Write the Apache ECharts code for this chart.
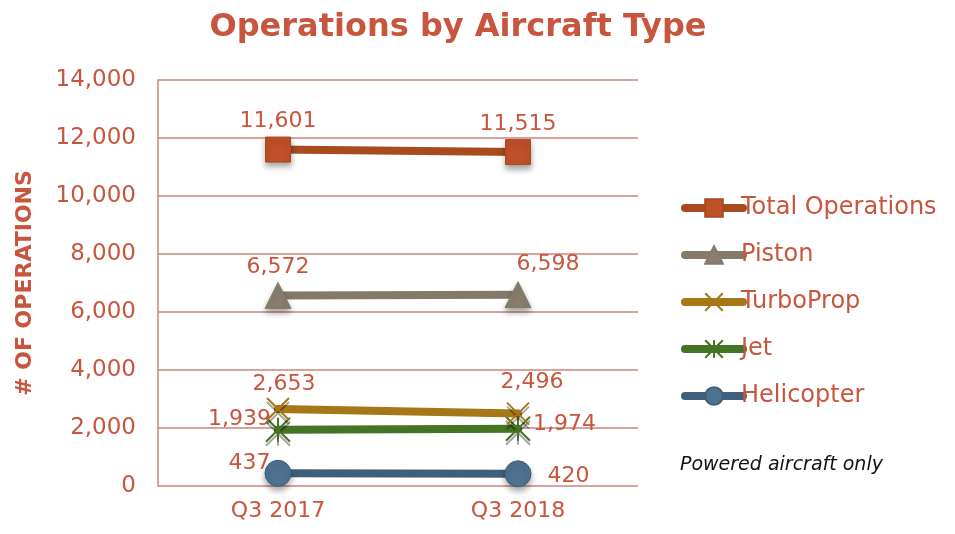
<!DOCTYPE html>
<html>
<head>
<meta charset="utf-8">
<script src="https://cdn.jsdelivr.net/npm/echarts@6/dist/echarts.min.js"></script>
<style>
  html, body { margin: 0; padding: 0; background: #fff; }
  #main { width: 955px; height: 534px; }
</style>
</head>
<body>
<div id="main"></div>
<script>
// data
const quarters = ['Q3 2017', 'Q3 2018'];
const seriesNames = ['Total Operations', 'Piston', 'TurboProp', 'Jet', 'Helicopter'];
const totalOps = [11601, 11515];
const piston = [6572, 6598];
const turboProp = [2653, 2496];
const jet = [1939, 1974];
const helicopter = [437, 420];

const textColor = '#c8553d';
const font = 'DejaVu Sans';

// label placement per point (style only)
const labelPos = [
  [{ position: 'top', distance: 4 }, { position: 'top', distance: 4 }],
  [{ position: 'top', distance: 4 }, { position: 'top', distance: 6, offset: [30, 0] }],
  [{ position: 'top', distance: 2, offset: [6, 0] }, { position: 'top', distance: 8, offset: [14, 0] }],
  [{ position: 'left', distance: 0, offset: [6, -10] }, { position: 'right', distance: 2, offset: [0, -4] }],
  [{ position: 'left', distance: 0, offset: [6, -10] }, { position: 'right', distance: 16, offset: [0, 2] }]
];

const colors = ['#a84b1e', '#857a6a', '#a67716', '#447424', '#3f607a'];
const symbolFill = ['#c0502a', '#8a7f6f', '#a67716', '#447424', '#4f7291'];
const symbols = [
  'rect',
  'triangle',
  'path://M0,0L10,10M10,0L0,10',
  'path://M0,0L10,10M10,0L0,10M5,0L5,10',
  'circle'
];
const symbolSizes = [25, 26, 22, 24, 26];
const values = [totalOps, piston, turboProp, jet, helicopter];

const series = seriesNames.map(function (name, i) {
  const stroked = i === 2 || i === 3;
  return {
    name: name,
    type: 'line',
    symbol: symbols[i],
    symbolSize: symbolSizes[i],
    lineStyle: { width: 8, color: colors[i], cap: 'round' },
    itemStyle: {
      color: stroked ? 'rgba(0,0,0,0)' : symbolFill[i],
      borderColor: colors[i],
      borderWidth: stroked ? 2 : 1,
      shadowBlur: stroked ? 0 : 6,
      shadowOffsetY: 4,
      shadowColor: 'rgba(0,0,0,0.35)'
    },
    label: {
      show: true,
      color: textColor,
      fontFamily: font,
      fontSize: 22,
      formatter: function (p) { return p.value.toLocaleString('en-US'); }
    },
    z: 10 - i,
    data: values[i].map(function (v, j) {
      return { value: v, label: labelPos[i][j] };
    })
  };
});

const chart = echarts.init(document.getElementById('main'));
chart.setOption({
  animation: false,
  title: {
    text: 'Operations by Aircraft Type',
    left: 453,
    textAlign: 'center',
    top: 7,
    textStyle: { color: textColor, fontFamily: font, fontSize: 32, fontWeight: 'bold' }
  },
  legend: {
    orient: 'vertical',
    left: 676,
    top: 191,
    itemWidth: 58,
    itemHeight: 22,
    itemGap: 23,
    data: seriesNames,
    lineStyle: { width: 8, cap: 'round' },
    itemStyle: { shadowBlur: 0, shadowOffsetY: 0 },
    textStyle: { color: textColor, fontFamily: font, fontSize: 24, padding: [0, 0, 0, -7] }
  },
  graphic: [{
    type: 'text',
    left: 680,
    top: 456,
    style: {
      text: 'Powered aircraft only',
      fill: '#111',
      font: 'italic 19px "DejaVu Sans"'
    }
  }],
  grid: { left: 158, right: 317, top: 80, bottom: 48 },
  xAxis: {
    type: 'category',
    data: quarters,
    axisLine: { show: false },
    axisTick: { show: false },
    axisLabel: { color: textColor, fontFamily: font, fontSize: 22, margin: 14 }
  },
  yAxis: {
    type: 'value',
    min: 0,
    max: 14000,
    interval: 2000,
    name: '# OF OPERATIONS',
    nameLocation: 'middle',
    nameGap: 122,
    nameTextStyle: { color: textColor, fontFamily: font, fontSize: 22, fontWeight: 'bold' },
    axisLine: { show: true, lineStyle: { color: '#c9867c', width: 1.5 } },
    axisTick: { show: false },
    splitLine: { lineStyle: { color: '#c9867c', width: 1.5 } },
    axisLabel: {
      color: textColor, fontFamily: font, fontSize: 23, margin: 22,
      formatter: function (v) { return v.toLocaleString('en-US'); }
    }
  },
  series: series
});
</script>
</body>
</html>
